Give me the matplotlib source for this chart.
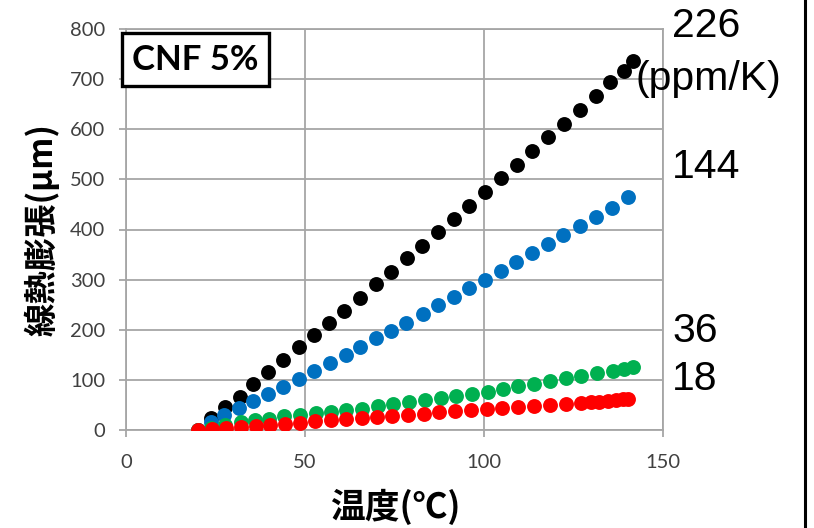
import matplotlib
matplotlib.use('Agg')
import matplotlib.pyplot as plt
from matplotlib.lines import Line2D

plt.rcParams['font.family'] = ['Lato', 'DejaVu Sans']

# temperature (deg C) / expansion (um) for each sample
temp_black = [20, 23.7, 27.7, 31.8, 35.5, 39.7, 43.9, 48.3, 52.5, 56.7, 61.0, 65.4, 69.7, 73.9, 78.4,
              82.8, 87.1, 91.6, 95.9, 100.3, 104.7, 109.2, 113.4, 117.9, 122.3, 126.8, 131.3, 135.2,
              139.0, 141.6]
exp_black = [0, 24, 46, 66, 92, 116, 140, 166, 190, 214, 238, 263, 291, 315, 343,
             368, 396, 421, 447, 474, 503, 529, 557, 585, 611, 639, 667, 694,
             716, 736]

temp_blue = [20, 23.7, 27.5, 31.6, 35.6, 39.7, 43.9, 48.4, 52.6, 57.0, 61.4, 65.4, 69.7, 74.0, 78.3,
             82.9, 87.2, 91.5, 95.9, 100.4, 104.7, 108.9, 113.5, 117.8, 122.2, 126.8, 131.3, 135.7,
             140.1]
exp_blue = [0, 15, 30, 43, 57, 71, 85, 101, 118, 134, 150, 165, 183, 198, 214,
            232, 250, 266, 283, 299, 318, 335, 354, 371, 389, 407, 424, 442,
            464]

temp_green = [20, 23.7, 27.7, 32.0, 36.0, 40.0, 44.2, 48.6, 53.1, 57.3, 61.5, 65.8, 70.3, 74.7, 79.1,
              83.4, 87.9, 92.2, 96.6, 101.0, 105.2, 109.6, 114.0, 118.4, 122.8, 127.1, 131.5, 135.9,
              139.1, 141.7]
exp_green = [0, 4, 9, 15, 19, 22, 27, 29, 33, 35, 39, 42, 47, 51, 55,
             59, 63, 68, 72, 76, 81, 87, 92, 97, 103, 108, 113, 118,
             122, 125]

temp_red = [20.2, 23.9, 27.9, 32.1, 36.3, 40.2, 44.4, 48.6, 52.8, 57.3, 61.5, 65.8, 70.0, 74.4, 78.9,
            83.2, 87.5, 91.9, 96.3, 100.7, 104.9, 109.6, 114.0, 118.4, 122.8, 127.0, 129.8, 132.2,
            134.5, 136.8, 138.7, 140.3]
exp_red = [0, 2, 4, 6, 8, 9, 11, 14, 17, 19, 21, 23, 25, 28, 30,
           32, 35, 38, 40, 41, 43, 45, 47, 49, 51, 54, 55, 56,
           57, 59, 61, 62]

cte_labels = ['226', '(ppm/K)', '144', '36', '18']

fig = plt.figure(figsize=(8.14, 5.28), dpi=100)
ax = fig.add_axes([126 / 814, 1 - 430 / 528, 537 / 814, 401 / 528])

ms = 115
ax.scatter(temp_black, exp_black, s=ms, color='#000000', linewidths=0, zorder=3)
ax.scatter(temp_blue, exp_blue, s=ms, color='#0070C0', linewidths=0, zorder=4)
ax.scatter(temp_green, exp_green, s=ms, color='#00B050', linewidths=0, zorder=5)
ax.scatter(temp_red, exp_red, s=ms, color='#FF0000', linewidths=0, zorder=6)

ax.set_xlim(0, 150)
ax.set_ylim(0, 800)
ax.set_xticks([0, 50, 100, 150])
ax.set_yticks(range(0, 801, 100))
ax.grid(True, color='#a6a6a6', linewidth=1.3, zorder=0)
ax.set_axisbelow(True)
for sp in ax.spines.values():
    sp.set_color('#a6a6a6')
    sp.set_linewidth(1.3)
ax.tick_params(axis='both', colors='#a6a6a6', labelcolor='#404040', labelsize=14.5,
               length=5, width=1.3, direction='out')
ax.tick_params(axis='x', pad=12)
ax.tick_params(axis='y', pad=10)

ax.text(0.012, 0.963, 'CNF 5%', transform=ax.transAxes, fontsize=25, fontweight='bold',
        ha='left', va='top', zorder=10,
        bbox=dict(boxstyle='square,pad=0.3', facecolor='white', edgecolor='black', linewidth=2.4))

cjk = ['Noto Sans CJK JP', 'DejaVu Sans']
fig.text(42 / 814, 1 - 230 / 528, '線熱膨張(μm)', rotation=90, ha='center', va='center',
         fontsize=24, fontweight='bold', family=cjk)
fig.text(395 / 814, 1 - 507 / 528, '温度(℃)', ha='center', va='center',
         fontsize=25, fontweight='bold', family=cjk)

# thermal expansion coefficients next to each series
label_pos = [(672, 26), (636, 79), (672, 167), (672, 331), (672, 379)]
for txt, (px, py) in zip(cte_labels, label_pos):
    fig.text(px / 814, 1 - py / 528, txt, ha='left', va='center', fontsize=29.5,
             family='Liberation Sans', color='black')

fig.add_artist(Line2D([805 / 814, 805 / 814], [0, 1], color='black', linewidth=2.2))

fig.savefig('out.png', dpi=100)
